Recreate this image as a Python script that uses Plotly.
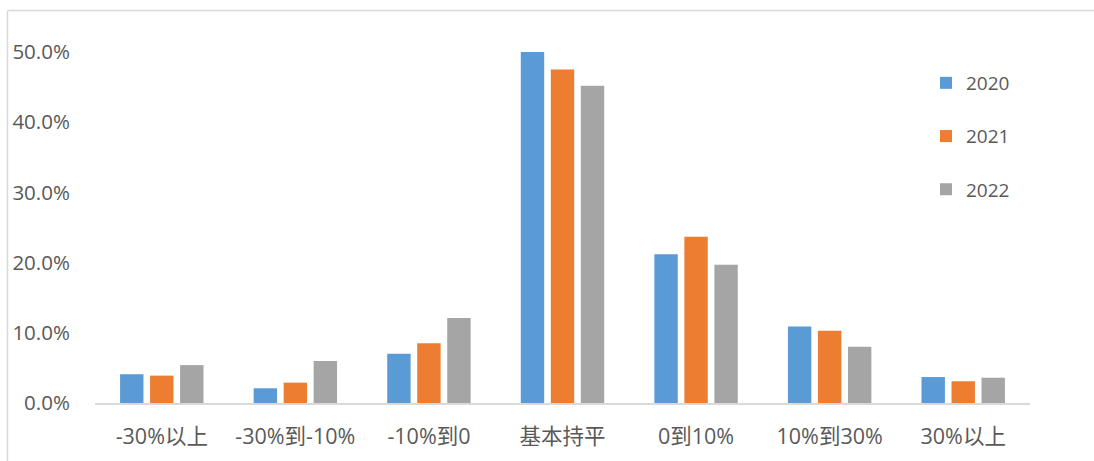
import plotly.graph_objects as go

# Distribution categories and yearly shares
categories = ["-30%以上", "-30%到-10%", "-10%到0", "基本持平", "0到10%", "10%到30%", "30%以上"]
years = ["2020", "2021", "2022"]
share_2020 = [0.041, 0.021, 0.070, 0.500, 0.212, 0.109, 0.037]
share_2021 = [0.039, 0.029, 0.085, 0.475, 0.237, 0.103, 0.031]
share_2022 = [0.054, 0.060, 0.121, 0.452, 0.197, 0.080, 0.036]
y_ticks = [0.0, 0.1, 0.2, 0.3, 0.4, 0.5]

colors = ["#5B9BD5", "#ED7D31", "#A5A5A5"]
series = [share_2020, share_2021, share_2022]

W, H = 1094, 461
L, R, T, B = 95, 64, 52, 58
pw, ph = W - L - R, H - T - B

FONT = "Open Sans, Noto Sans CJK SC, sans-serif"
TEXT = "#595959"

fig = go.Figure()
for name, vals, col in zip(years, series, colors):
    fig.add_trace(go.Bar(
        x=categories, y=vals, name=name,
        marker=dict(color=col, line=dict(width=0)),
        legendgroup=name,
    ))


def px_x(x):
    return (x - L) / pw


def px_y(y):
    return (H - B - y) / ph


# chart area frame (top and left edges)
fig.add_shape(type="line", xref="paper", yref="paper",
              x0=px_x(7.5), x1=px_x(1094), y0=px_y(10.5), y1=px_y(10.5),
              line=dict(color="#D9D9D9", width=1.5))
fig.add_shape(type="line", xref="paper", yref="paper",
              x0=px_x(7.5), x1=px_x(7.5), y0=px_y(10.5), y1=px_y(461),
              line=dict(color="#D9D9D9", width=1.5))

fig.update_layout(
    width=W, height=H,
    margin=dict(l=L, r=R, t=T, b=B),
    paper_bgcolor="white", plot_bgcolor="white",
    barmode="group", bargap=0.326, bargroupgap=0.22,
    font=dict(family=FONT, size=19, color=TEXT),
    showlegend=True,
    legend=dict(
        x=px_x(926), y=px_y(64), xanchor="left", yanchor="top",
        font=dict(family=FONT, size=19, color=TEXT),
        tracegroupgap=25.5, bgcolor="rgba(0,0,0,0)",
    ),
    xaxis=dict(
        showline=True, linecolor="#D9D9D9", linewidth=1.5,
        showgrid=False, zeroline=False,
        ticks="outside", ticklen=13, tickcolor="rgba(0,0,0,0)",
        tickfont=dict(family=FONT, size=21.5, color=TEXT),
    ),
    yaxis=dict(
        range=[0, 0.5], tickvals=y_ticks, tickformat=".1%",
        showline=False, showgrid=False, zeroline=False,
        ticks="outside", ticklen=20, tickcolor="rgba(0,0,0,0)",
        tickfont=dict(family=FONT, size=20.5, color=TEXT),
    ),
)

fig.write_html("out.html")
